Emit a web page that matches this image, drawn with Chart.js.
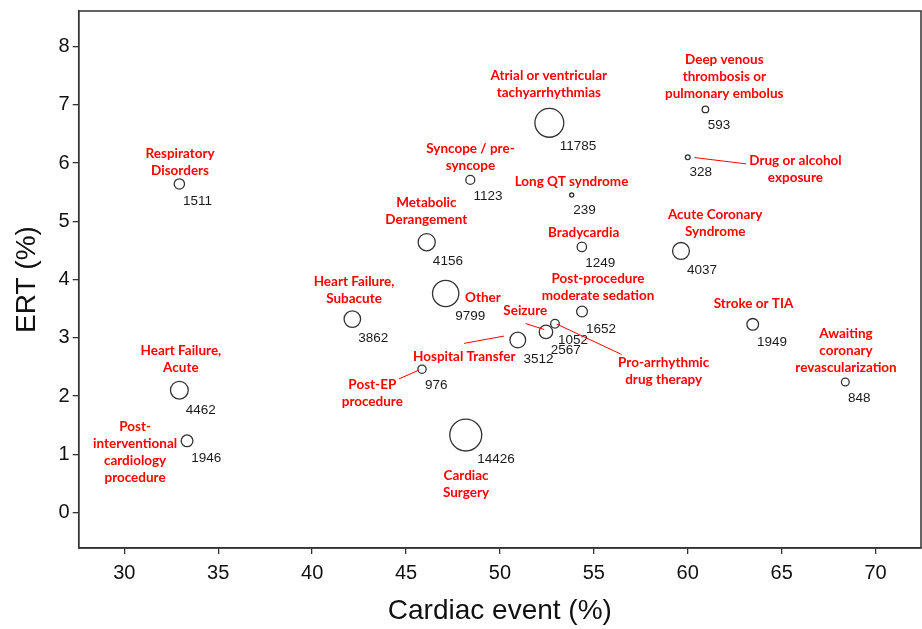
<!DOCTYPE html>
<html><head><meta charset="utf-8">
<script src="https://cdn.jsdelivr.net/npm/chart.js@4/dist/chart.umd.min.js"></script>
<style>html,body{margin:0;padding:0;background:#fff;} #wrap{width:922px;height:629px;position:relative;}</style>
</head><body><div id="wrap"><canvas id="c" width="922" height="629"></canvas></div>
<script>
const categories = [
 "Respiratory\nDisorders",
 "Atrial or ventricular\ntachyarrhythmias",
 "Syncope / pre-\nsyncope",
 "Long QT syndrome",
 "Metabolic\nDerangement",
 "Bradycardia",
 "Deep venous\nthrombosis or\npulmonary embolus",
 "Drug or alcohol\nexposure",
 "Acute Coronary\nSyndrome",
 "Heart Failure,\nAcute",
 "Post-\ninterventional\ncardiology\nprocedure",
 "Other",
 "Heart Failure,\nSubacute",
 "Post-procedure\nmoderate sedation",
 "Seizure",
 "Pro-arrhythmic\ndrug therapy",
 "Hospital Transfer",
 "Post-EP\nprocedure",
 "Cardiac\nSurgery",
 "Stroke or TIA",
 "Awaiting\ncoronary\nrevascularization"
];
const cardiacEvent = [32.93,52.63,48.42,53.82,46.10,54.36,60.94,60.00,59.64,32.93,33.34,47.11,42.14,54.37,52.45,52.93,50.95,45.85,48.18,63.46,68.39];
const ert = [5.64,6.69,5.71,5.45,4.64,4.56,6.92,6.10,4.49,2.10,1.23,3.76,3.32,3.45,3.10,3.24,2.96,2.46,1.33,3.23,2.24];
const patients = [1511,11785,1123,239,4156,1249,593,328,4037,4462,1946,9799,3862,1652,2567,1052,3512,976,14426,1949,848];
const xTicks = [30,35,40,45,50,55,60,65,70];
const yTicks = [0,1,2,3,4,5,6,7,8];

// label placement (pixel offsets from bubble centre: centre x, first line y)
const labelOffsets = [
 [0.7,-30.3],[-0.5,-46.7],[0.2,-31],[-0.2,-13.6],[-0.4,-39.6],[1.8,-14.4],
 [18.9,-49.3],[107.7,3.7],[34.2,-36.7],[1.5,-39.3],[-52,-14],[37.3,4],
 [1.7,-37.3],[16,-33.3],[-20.7,-21],[108.7,39.3],[-53.5,16.7],[-49.7,15.7],
 [0.3,40.3],[0.8,-20.3],[0.7,-48.7]
];
const leaderLines = {
 7: [7,0.4,58.4,6.7],
 14: [-20.3,-8.4,-1.7,-2.4],
 15: [1.7,0.3,66.7,30.7],
 16: [-53.7,3.3,-13.7,-4],
 17: [-23,9.7,-2.7,0.7]
};
const radiusOf = n => Math.sqrt(n) * 0.133;

const labelPlugin = {
 id: 'bubbleLabels',
 afterDatasetsDraw(chart) {
   const ctx = chart.ctx, a = chart.chartArea;
   ctx.save();
   ctx.strokeStyle = '#333'; ctx.lineWidth = 1.5;
   ctx.strokeRect(a.left, a.top, a.right - a.left, a.bottom - a.top);
   const meta = chart.getDatasetMeta(0);
   meta.data.forEach((el, i) => {
     const r = radiusOf(patients[i]);
     const cx = el.x, cy = el.y;
     ctx.fillStyle = '#1a1a1a';
     ctx.font = '13.5px "Liberation Sans", Arial, sans-serif';
     ctx.textAlign = 'left'; ctx.textBaseline = 'middle';
     ctx.fillText(String(patients[i]), cx + 0.72 * r, cy + 0.7 * r + 13.5);
     const [dx, dy] = labelOffsets[i];
     ctx.fillStyle = '#ff0000';
     ctx.font = 'bold 13.5px Lato, "Open Sans", sans-serif';
     ctx.textAlign = 'center';
     categories[i].split('\n').forEach((ln, k) => ctx.fillText(ln, cx + dx, cy + dy + k * 17));
     const L = leaderLines[i];
     if (L) {
       ctx.strokeStyle = '#ff0000'; ctx.lineWidth = 1;
       ctx.beginPath(); ctx.moveTo(cx + L[0], cy + L[1]); ctx.lineTo(cx + L[2], cy + L[3]); ctx.stroke();
     }
   });
   ctx.restore();
 }
};

const tickFont = {family: '"Liberation Sans", Arial, sans-serif', size: 20};
const titleFont = {family: '"Liberation Sans", Arial, sans-serif', size: 28, lineHeight: 1.2};

new Chart(document.getElementById('c'), {
 type: 'bubble',
 data: {
   datasets: [{
     data: cardiacEvent.map((x, i) => ({x: x, y: ert[i], r: radiusOf(patients[i])})),
     backgroundColor: 'rgba(0,0,0,0)',
     borderColor: '#333',
     borderWidth: 1.3
   }]
 },
 options: {
   responsive: false,
   animation: false,
   events: [],
   layout: {autoPadding: false, padding: {top: 11, right: 1, left: 0, bottom: 0}},
   plugins: {legend: {display: false}, tooltip: {enabled: false}},
   scales: {
     x: {
       type: 'linear', min: 27.57, max: 72.42,
       afterBuildTicks: s => { s.ticks = xTicks.map(v => ({value: v})); },
       afterFit: s => { s.height = 81; s.paddingLeft = 0; s.paddingRight = 0; },
       grid: {drawOnChartArea: false, drawTicks: true, tickLength: 6, color: '#333', lineWidth: 1.3},
       border: {display: true, color: '#333', width: 1.5},
       ticks: {font: tickFont, color: '#111', padding: 7, maxRotation: 0, autoSkip: false},
       title: {display: true, text: 'Cardiac event (%)', font: titleFont, color: '#111', padding: {top: 0, bottom: 1}}
     },
     y: {
       type: 'linear', min: -0.61, max: 8.61,
       afterBuildTicks: s => { s.ticks = yTicks.map(v => ({value: v})); },
       afterFit: s => { s.width = 78.7; s.paddingTop = 0; s.paddingBottom = 0; },
       grid: {drawOnChartArea: false, drawTicks: true, tickLength: 6, color: '#333', lineWidth: 1.3},
       border: {display: true, color: '#333', width: 1.5},
       ticks: {font: tickFont, color: '#111', padding: 3, autoSkip: false},
       title: {display: true, text: 'ERT (%)', font: titleFont, color: '#111', padding: {top: 10.7, bottom: 0}}
     }
   }
 },
 plugins: [labelPlugin]
});
</script>
</body></html>
